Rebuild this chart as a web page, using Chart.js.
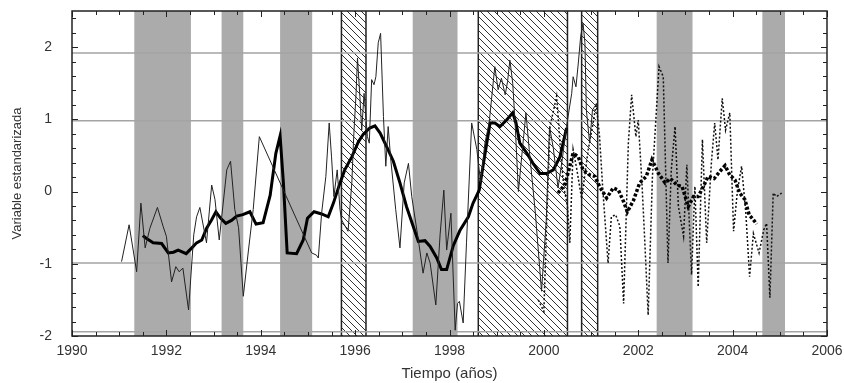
<!DOCTYPE html>
<html>
<head>
<meta charset="utf-8">
<script src="https://cdn.jsdelivr.net/npm/chart.js@4"></script>
<style>
  html, body { margin: 0; padding: 0; background: #fff; }
  #wrap { width: 844px; height: 383px; position: relative; }
</style>
</head>
<body>
<div id="wrap"><canvas id="chart"></canvas></div>
<script>
// monthly series (thin solid)
const solidYears = [1991.05, 1991.21, 1991.37, 1991.46, 1991.55, 1991.65, 1991.81, 1991.93, 1992.0, 1992.11,
  1992.2, 1992.27, 1992.35, 1992.47, 1992.58, 1992.64, 1992.71, 1992.85, 1992.96, 1993.03,
  1993.12, 1993.28, 1993.36, 1993.45, 1993.53, 1993.63, 1993.74, 1993.84, 1993.97, 1995.08,
  1995.18, 1995.22, 1995.29, 1995.38, 1995.45, 1995.5, 1995.55, 1995.62, 1995.68, 1995.71,
  1995.85, 1995.93, 1995.97, 1996.02, 1996.05, 1996.1, 1996.14, 1996.19, 1996.26, 1996.3,
  1996.35, 1996.4, 1996.44, 1996.49, 1996.54, 1996.6, 1996.65, 1996.7, 1996.75, 1996.86,
  1996.95, 1997.04, 1997.13, 1997.2, 1997.34, 1997.44, 1997.52, 1997.59, 1997.71, 1997.8,
  1997.88, 1997.94, 1998.03, 1998.12, 1998.17, 1998.21, 1998.29, 1998.36, 1998.47, 1998.58,
  1998.66, 1998.75, 1998.84, 1998.96, 1999.03, 1999.1, 1999.18, 1999.23, 1999.28, 1999.34,
  1999.39, 1999.46, 1999.55, 1999.62, 1999.69, 1999.82, 1999.95, 2000.05, 2000.12, 2000.2,
  2000.3, 2000.38, 2000.48, 2000.59, 2000.62, 2000.68, 2000.73, 2000.78, 2000.83, 2000.87,
  2000.9, 2000.97, 2001.03, 2001.12];
const solidValues = [-0.97, -0.46, -1.11, -0.16, -0.78, -0.51, -0.22, -0.48, -0.62, -1.25,
  -1.04, -1.11, -1.06, -1.64, -0.6, -0.35, -0.22, -0.71, 0.09, -0.11,
  -0.67, 0.30, 0.42, -0.25, -0.5, -1.45, -0.81, -0.25, 0.76, -0.85,
  -0.88, -0.92, -0.30, 0.21, 0.95, 0.48, -0.07, 0.30, -0.25, -0.39,
  -0.55, 0.12, 0.76, 1.36, 1.85, 1.32, 0.85, 1.36, 0.76, 0.67,
  1.55, 1.48, 1.59, 2.06, 2.19, 1.04, 0.35, 0.90, 0.48, -0.25,
  -0.78, 0.12, 0.39, -0.07, -0.67, -1.13, -0.85, -0.99, -1.57, -0.6,
  0.02, -0.81, -0.30, -1.92, -1.55, -1.52, -1.82, -0.71, 0.95, 0.58,
  0.12, 0.67, 0.95, 1.73, 1.41, 1.57, 1.34, 1.52, 1.82, 1.50,
  0.95, 0.0, 0.62, 1.09, 0.58, -0.3, -1.38, -0.4, 0.9, 0.6,
  0.05, 0.4, 0.9, 1.36, 1.59, 1.45, 1.78, 2.15, 2.33, 2.06,
  1.13, 0.67, 1.13, 1.22];

// smoothed series (thick solid)
const smoothYears = [1991.5, 1991.58, 1991.72, 1991.9, 1992.04, 1992.15, 1992.25, 1992.42, 1992.54, 1992.64,
  1992.75, 1992.85, 1992.96, 1993.05, 1993.15, 1993.26, 1993.38, 1993.49, 1993.62, 1993.77,
  1993.9, 1994.05, 1994.2, 1994.32, 1994.41, 1994.48, 1994.56, 1994.76, 1994.9, 1994.99,
  1995.13, 1995.29, 1995.43, 1995.54, 1995.68, 1995.78, 1995.93, 1996.07, 1996.17, 1996.31,
  1996.42, 1996.53, 1996.67, 1996.81, 1996.95, 1997.09, 1997.23, 1997.34, 1997.48, 1997.59,
  1997.73, 1997.83, 1997.94, 1998.08, 1998.22, 1998.4, 1998.5, 1998.63, 1998.72, 1998.86,
  1998.96, 1999.07, 1999.21, 1999.34, 1999.41, 1999.49, 1999.64, 1999.77, 1999.92, 2000.06,
  2000.2, 2000.34, 2000.48];
const smoothValues = [-0.61, -0.65, -0.71, -0.72, -0.85, -0.84, -0.81, -0.86, -0.78, -0.71,
  -0.67, -0.51, -0.39, -0.28, -0.37, -0.44, -0.40, -0.34, -0.32, -0.28,
  -0.45, -0.43, -0.05, 0.53, 0.77, 0.12, -0.85, -0.86, -0.67, -0.37,
  -0.28, -0.31, -0.35, -0.16, 0.12, 0.30, 0.48, 0.69, 0.79, 0.88,
  0.91, 0.81, 0.62, 0.42, 0.12, -0.21, -0.48, -0.69, -0.68, -0.76,
  -0.92, -1.08, -1.08, -0.75, -0.54, -0.35, -0.16, 0.02, 0.39, 0.95,
  0.95, 0.90, 0.99, 1.09, 0.95, 0.67, 0.53, 0.39, 0.25, 0.25,
  0.30, 0.48, 0.88];

// second monthly series (thin dotted)
const dotYears = [1999.88, 2000.0, 2000.06, 2000.13, 2000.27, 2000.35, 2000.42, 2000.5, 2000.55, 2000.62,
  2000.7, 2000.8, 2000.94, 2001.03, 2001.11, 2001.18, 2001.25, 2001.36, 2001.43, 2001.52,
  2001.61, 2001.69, 2001.79, 2001.86, 2001.95, 2002.0, 2002.08, 2002.14, 2002.21, 2002.3,
  2002.44, 2002.53, 2002.58, 2002.63, 2002.7, 2002.78, 2002.85, 2002.96, 2003.03, 2003.13,
  2003.2, 2003.27, 2003.36, 2003.45, 2003.55, 2003.62, 2003.69, 2003.78, 2003.85, 2003.94,
  2004.02, 2004.1, 2004.19, 2004.28, 2004.36, 2004.44, 2004.56, 2004.66, 2004.72, 2004.79,
  2004.86, 2004.93, 2005.04];
const dotValues = [-1.5, -1.66, -0.4, 0.9, 1.32, 0.6, 0.07, -0.2, -0.71, 0.58,
  0.3, -0.1, 0.58, 0.9, 1.22, 0.76, 0.02, -0.99, -0.35, -0.32,
  -0.48, -1.55, 0.67, 1.34, 0.76, 0.99, 0.1, -0.71, -1.71, 0.2,
  1.73, 1.59, 0.3, -0.99, 0.3, 0.9, -0.2, -0.62, 0.37, -1.15,
  0.07, -1.32, 0.72, -0.71, 0.4, 0.95, 0.44, 1.29, 0.85, 1.09,
  -0.55, 0.0, 0.35, -0.3, -1.18, -0.58, -0.85, -0.53, -0.44, -1.47,
  -0.02, -0.07, -0.02];

// second smoothed series (thick dotted)
const dotSmoothYears = [2000.3, 2000.45, 2000.62, 2000.73, 2000.83, 2000.97, 2001.08, 2001.18, 2001.33, 2001.47,
  2001.58, 2001.69, 2001.77, 2001.9, 2002.03, 2002.17, 2002.29, 2002.43, 2002.57, 2002.68,
  2002.82, 2002.93, 2003.06, 2003.17, 2003.27, 2003.38, 2003.48, 2003.61, 2003.73, 2003.84,
  2003.94, 2004.05, 2004.15, 2004.26, 2004.35, 2004.44, 2004.51];
const dotSmoothValues = [-0.02, 0.1, 0.53, 0.48, 0.30, 0.23, 0.21, 0.07, -0.09, 0.05,
  0.02, -0.14, -0.28, -0.12, 0.12, 0.21, 0.44, 0.25, 0.12, 0.18,
  0.09, 0.07, -0.21, -0.07, -0.07, 0.07, 0.21, 0.18, 0.28, 0.36,
  0.23, 0.16, -0.02, -0.11, -0.32, -0.39, -0.45];

// shaded periods
const grayBands = [[1991.32, 1992.52], [1993.17, 1993.63], [1994.41, 1995.09],
  [1997.22, 1998.17], [2002.39, 2003.15], [2004.63, 2005.11]];
const hatchBands = [[1995.71, 1996.23], [1998.61, 2000.50], [2000.80, 2001.14]];
const refLines = [1.92, 0.98, -0.99, -1.94];
const xTickLabels = [1990, 1992, 1994, 1996, 1998, 2000, 2002, 2004, 2006];
const yTickLabels = [-2, -1, 0, 1, 2];

const toPoints = (xs, ys) => xs.map((x, i) => ({ x: x, y: ys[i] }));

function hatchPattern(ctx) {
  const s = 7;
  const c = document.createElement('canvas');
  c.width = s; c.height = s;
  const p = c.getContext('2d');
  p.strokeStyle = '#333';
  p.lineWidth = 1;
  p.beginPath();
  p.moveTo(-1, -1); p.lineTo(s + 1, s + 1);
  p.moveTo(-1, s - 1); p.lineTo(1, s + 1);
  p.moveTo(s - 1, -1); p.lineTo(s + 1, 1);
  p.stroke();
  return ctx.createPattern(c, 'repeat');
}

const bandsPlugin = {
  id: 'bands',
  beforeDatasetsDraw(chart) {
    const { ctx, chartArea: a, scales: { x, y } } = chart;
    ctx.save();
    ctx.fillStyle = '#ababab';
    grayBands.forEach(b => {
      const x0 = x.getPixelForValue(b[0]), x1 = x.getPixelForValue(b[1]);
      ctx.fillRect(x0, a.top, x1 - x0, a.height);
    });
    const pat = hatchPattern(ctx);
    hatchBands.forEach(b => {
      const x0 = x.getPixelForValue(b[0]), x1 = x.getPixelForValue(b[1]);
      ctx.fillStyle = pat;
      ctx.fillRect(x0, a.top, x1 - x0, a.height);
      ctx.strokeStyle = '#222';
      ctx.lineWidth = 1.5;
      ctx.beginPath();
      ctx.moveTo(x0, a.top); ctx.lineTo(x0, a.bottom);
      ctx.moveTo(x1, a.top); ctx.lineTo(x1, a.bottom);
      ctx.stroke();
    });
    ctx.strokeStyle = '#a4a4a4';
    ctx.lineWidth = 1.5;
    ctx.beginPath();
    refLines.forEach(v => {
      const py = y.getPixelForValue(v);
      ctx.moveTo(a.left, py); ctx.lineTo(a.right, py);
    });
    ctx.stroke();
    ctx.restore();
  },
  afterDatasetsDraw(chart) {
    const { ctx, chartArea: a, scales: { x, y } } = chart;
    ctx.save();
    ctx.strokeStyle = '#222';
    ctx.lineWidth = 1;
    ctx.beginPath();
    for (let i = 0; i <= 32; i++) {
      const px = Math.round(x.getPixelForValue(1990 + i / 2)) + 0.5;
      const len = i % 4 === 0 ? 6 : 4;
      ctx.moveTo(px, a.bottom); ctx.lineTo(px, a.bottom - len);
      ctx.moveTo(px, a.top); ctx.lineTo(px, a.top + len);
    }
    for (let i = -10; i <= 12; i++) {
      const py = Math.round(y.getPixelForValue(i / 5)) + 0.5;
      const len = i % 5 === 0 ? 6 : 4;
      ctx.moveTo(a.left, py); ctx.lineTo(a.left + len, py);
      ctx.moveTo(a.right, py); ctx.lineTo(a.right - len, py);
    }
    ctx.stroke();
    ctx.lineWidth = 1.5;
    ctx.strokeRect(a.left, a.top, a.width, a.height);
    ctx.restore();
  }
};

const lineSet = (data, width, dash, color) => ({
  data: data,
  showLine: true,
  borderColor: color,
  borderWidth: width,
  borderDash: dash,
  pointRadius: 0,
  tension: 0,
  fill: false
});

new Chart(document.getElementById('chart'), {
  type: 'scatter',
  data: {
    datasets: [
      lineSet(toPoints(solidYears, solidValues), 1, [], '#222'),
      lineSet(toPoints(dotYears, dotValues), 1.5, [2, 2], '#111'),
      lineSet(toPoints(smoothYears, smoothValues), 3, [], '#000'),
      lineSet(toPoints(dotSmoothYears, dotSmoothValues), 3.5, [3, 2], '#000')
    ]
  },
  plugins: [bandsPlugin],
  options: {
    responsive: true,
    maintainAspectRatio: false,
    animation: false,
    layout: { padding: { top: 11, right: 17, left: 0, bottom: 0 } },
    plugins: { legend: { display: false }, tooltip: { enabled: false } },
    scales: {
      x: {
        type: 'linear',
        min: 1990,
        max: 2006,
        grid: { display: false, drawTicks: false },
        border: { display: false },
        afterBuildTicks: s => { s.ticks = xTickLabels.map(v => ({ value: v })); },
        afterFit: s => { s.height = 47; s.paddingLeft = 0; s.paddingRight = 0; },
        ticks: {
          padding: 7,
          color: '#333',
          font: { family: 'Liberation Sans, Arial, sans-serif', size: 14 },
          callback: v => String(v),
          maxRotation: 0
        },
        title: {
          display: true,
          text: 'Tiempo (años)',
          color: '#333',
          font: { family: 'Liberation Sans, Arial, sans-serif', size: 15 },
          padding: { top: 0, bottom: 0 }
        }
      },
      y: {
        min: -2,
        max: 2.5,
        grid: { display: false, drawTicks: false },
        border: { display: false },
        afterBuildTicks: s => { s.ticks = yTickLabels.map(v => ({ value: v })); },
        afterFit: s => { s.width = 72; s.paddingTop = 0; s.paddingBottom = 0; },
        ticks: {
          padding: 20,
          color: '#333',
          font: { family: 'Liberation Sans, Arial, sans-serif', size: 14 }
        },
        title: {
          display: true,
          text: 'Variable estandarizada',
          color: '#333',
          font: { family: 'Liberation Sans, Arial, sans-serif', size: 13 },
          padding: { top: 10, bottom: 0 }
        }
      }
    }
  }
});
</script>
</body>
</html>
